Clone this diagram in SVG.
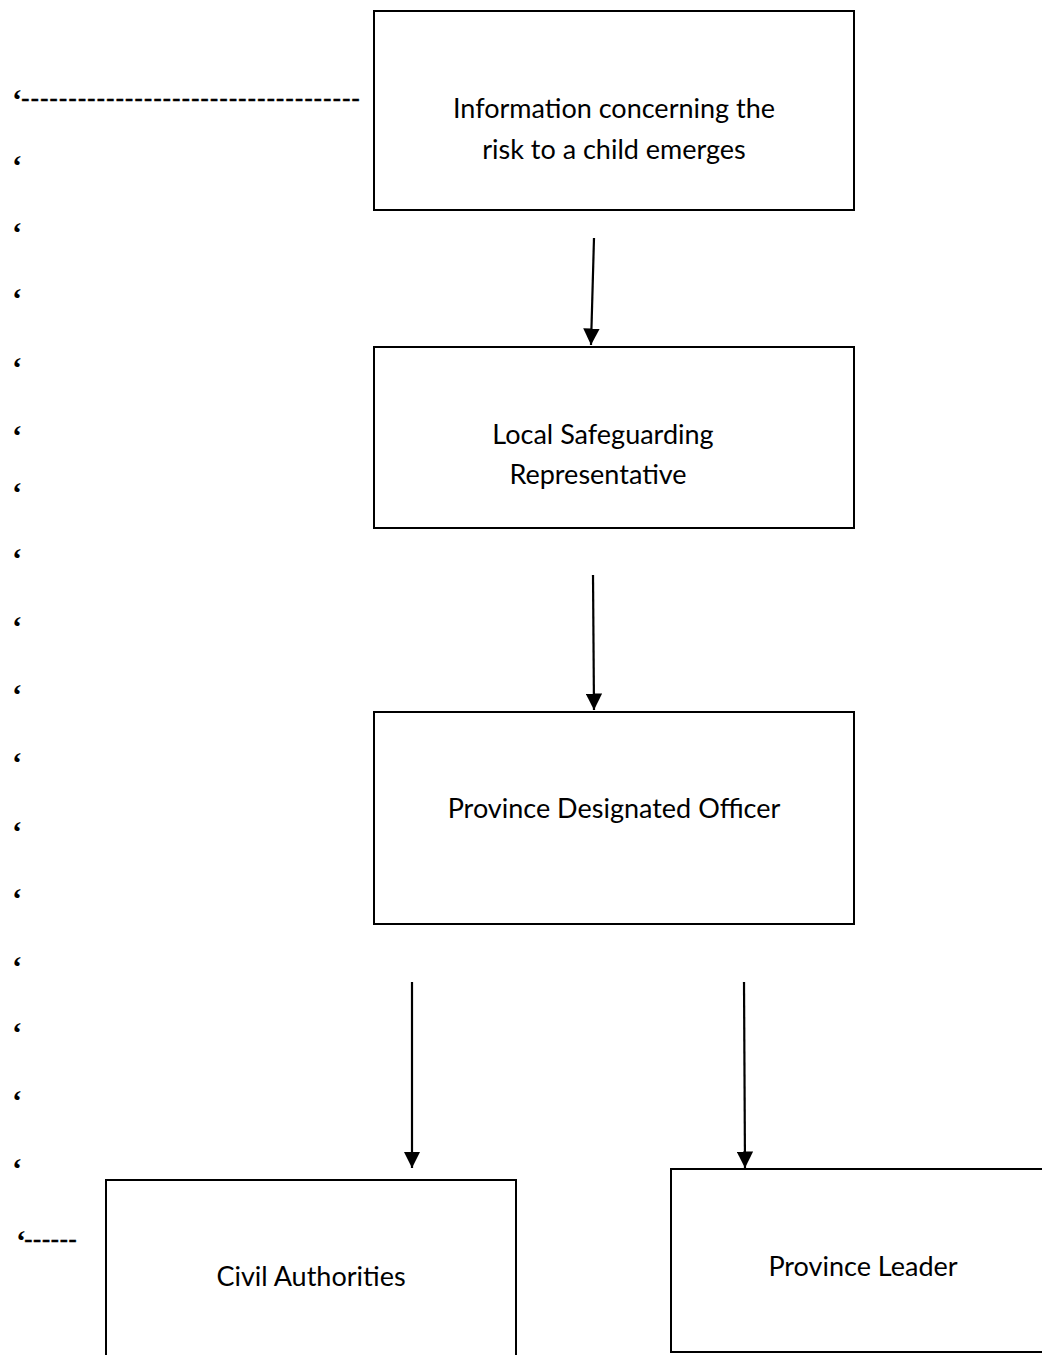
<svg xmlns="http://www.w3.org/2000/svg" width="1042" height="1355" viewBox="0 0 1042 1355">
<defs>
<style>
.box{fill:#fff;stroke:#000;stroke-width:2}
.lbl{font-family:Lato,"Open Sans","Liberation Sans",sans-serif;font-size:27px;fill:#000;text-anchor:middle}
.q{font-family:"Liberation Serif",serif;font-size:30px;font-weight:bold;fill:#000}
.dash{font-family:"Liberation Sans",sans-serif;font-size:26px;fill:#000;stroke:#000;stroke-width:0.4}
.conn{stroke:#000;stroke-width:2.2;fill:none;marker-end:url(#arr)}
</style>
<marker id="arr" viewBox="0 0 10 10" refX="10" refY="5" markerWidth="7.5" markerHeight="7.5" markerUnits="strokeWidth" orient="auto">
<path d="M0,0 L10,5 L0,10 Z" fill="#000"/>
</marker>
</defs>
<rect width="1042" height="1355" fill="#fff"/>
<g id="margin-marks">
<text class="q" x="12" y="110">‘</text>
<text class="dash" x="21" y="107" textLength="339" lengthAdjust="spacing">------------------------------------</text>
<text class="q" x="12" y="176">‘</text>
<text class="q" x="12" y="243">‘</text>
<text class="q" x="12" y="309">‘</text>
<text class="q" x="12" y="378">‘</text>
<text class="q" x="12" y="446">‘</text>
<text class="q" x="12" y="503">‘</text>
<text class="q" x="12" y="569">‘</text>
<text class="q" x="12" y="637">‘</text>
<text class="q" x="12" y="705">‘</text>
<text class="q" x="12" y="773">‘</text>
<text class="q" x="12" y="842">‘</text>
<text class="q" x="12" y="909">‘</text>
<text class="q" x="12" y="977">‘</text>
<text class="q" x="12" y="1043">‘</text>
<text class="q" x="12" y="1111">‘</text>
<text class="q" x="12" y="1179">‘</text>
<text class="q" x="16" y="1251">‘</text>
<text class="dash" x="24" y="1248" textLength="53" lengthAdjust="spacing">------</text>
</g>
<g id="connectors">
<line class="conn" x1="594" y1="238" x2="591" y2="345"/>
<line class="conn" x1="593" y1="575" x2="594" y2="710"/>
<line class="conn" x1="412" y1="982" x2="412" y2="1168"/>
<line class="conn" x1="744" y1="982" x2="745" y2="1168"/>
</g>
<g id="node-info">
<rect class="box" x="374" y="11" width="480" height="199"/>
<text class="lbl" x="614" y="118">Information concerning the</text>
<text class="lbl" x="614" y="159">risk to a child emerges</text>
</g>
<g id="node-local">
<rect class="box" x="374" y="347" width="480" height="181"/>
<text class="lbl" x="603" y="444">Local Safeguarding</text>
<text class="lbl" x="598" y="484">Representative</text>
</g>
<g id="node-pdo">
<rect class="box" x="374" y="712" width="480" height="212"/>
<text class="lbl" x="614" y="818">Province Designated Officer</text>
</g>
<g id="node-civil">
<rect class="box" x="106" y="1180" width="410" height="190"/>
<text class="lbl" x="311" y="1286">Civil Authorities</text>
</g>
<g id="node-leader">
<rect class="box" x="671" y="1169" width="390" height="183"/>
<text class="lbl" x="863" y="1276">Province Leader</text>
</g>
</svg>
